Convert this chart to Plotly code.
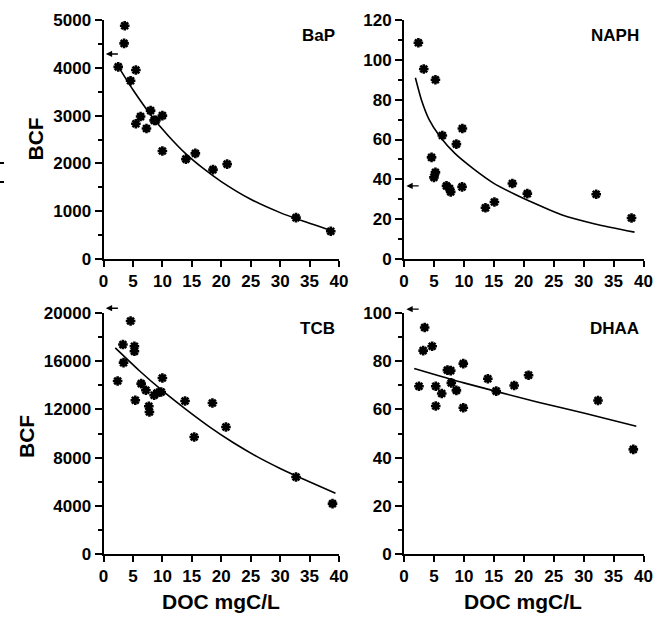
import plotly.graph_objects as go

W, H = 660, 617

# ---------------- data ----------------
BAP_DOC = [3.6, 3.5, 2.5, 5.5, 4.6, 8.0, 6.3, 5.5, 8.6, 10.0, 7.3, 8.9, 10.0, 14.0, 15.6, 18.6, 21.0, 32.7, 38.6]
BAP_BCF = [4880, 4510, 4020, 3955, 3730, 3105, 2980, 2830, 2900, 3000, 2730, 2900, 2260, 2090, 2210, 1870, 1985, 865, 580]
BAP_FIT_DOC = [2.5, 5, 8, 11, 14, 17, 20, 25, 30, 34, 38.8]
BAP_FIT_BCF = [4030, 3540, 3020, 2580, 2200, 1890, 1620, 1250, 970, 790, 590]

NAPH_DOC = [2.4, 3.3, 5.25, 6.4, 9.75, 8.75, 4.6, 5.25, 5.0, 7.1, 7.6, 7.8, 9.7, 15.1, 13.6, 18.1, 20.6, 32.1, 38.0]
NAPH_BCF = [108.6, 95.4, 90, 62, 65.5, 57.7, 51, 43.5, 41, 36.7, 35.4, 33.7, 36.2, 28.6, 25.7, 37.9, 32.8, 32.5, 20.6]
NAPH_FIT_DOC = [1.9, 2.9, 4.2, 6.0, 8.5, 11.5, 15, 18.5, 21, 26.3, 31.9, 38.5]
NAPH_FIT_BCF = [91, 80, 70, 61.5, 53, 45.5, 38.0, 32.5, 29.0, 22.2, 17.6, 13.5]

TCB_DOC = [4.6, 3.3, 5.25, 5.25, 3.4, 2.4, 6.4, 10.0, 7.2, 8.6, 9.8, 9.1, 5.4, 7.7, 7.8, 13.85, 18.5, 15.4, 20.8, 32.7, 38.9]
TCB_BCF = [19340, 17380, 17240, 16820, 15880, 14360, 14140, 14610, 13590, 13170, 13440, 13360, 12760, 12260, 11780, 12700, 12530, 9710, 10540, 6390, 4180]
TCB_FIT_DOC = [2, 6, 10, 14, 18, 22, 26, 30, 34, 39.4]
TCB_FIT_BCF = [17100, 15250, 13550, 12000, 10550, 9250, 8100, 7100, 6200, 5050]

DHAA_DOC = [3.45, 3.2, 4.7, 2.5, 5.3, 7.25, 7.8, 9.9, 7.9, 6.3, 8.75, 5.3, 9.9, 14.0, 15.4, 18.4, 20.8, 32.4, 38.3]
DHAA_BCF = [94.0, 84.4, 86.2, 69.6, 69.6, 76.3, 76.1, 79.0, 71.0, 66.6, 67.9, 61.4, 60.7, 72.7, 67.6, 69.9, 74.2, 63.7, 43.4]
DHAA_FIT_DOC = [1.7, 10, 22.4, 30, 38.8]
DHAA_FIT_BCF = [77, 71, 63, 58.5, 53]

# arrows at the BCF axis (value with no DOC)
ARROW_BCF = {"BaP": 4290, "NAPH": 36.7, "TCB": 20400, "DHAA": 101.6}
ARROW_DOC = [0.4, 2.7]  # head, tail

PANEL_NAMES = ["BaP", "NAPH", "TCB", "DHAA"]
Y_MAX = [5000, 120, 20000, 100]
Y_DTICK = [1000, 20, 4000, 20]
Y_MINOR = [500, 10, 2000, 10]
X_TICKS = [0, 5, 10, 15, 20, 25, 30, 35, 40]
X_TITLE = "DOC mgC/L"
Y_TITLE = "BCF"

DATA = [
    (BAP_DOC, BAP_BCF, BAP_FIT_DOC, BAP_FIT_BCF),
    (NAPH_DOC, NAPH_BCF, NAPH_FIT_DOC, NAPH_FIT_BCF),
    (TCB_DOC, TCB_BCF, TCB_FIT_DOC, TCB_FIT_BCF),
    (DHAA_DOC, DHAA_BCF, DHAA_FIT_DOC, DHAA_FIT_BCF),
]

# ---------------- layout geometry (pixels) ----------------
COL_X = [(103.5, 339.0), (404.0, 643.5)]
ROW_Y = [(20.0, 259.0), (313.0, 554.0)]


def px_x(p):
    return p / W


def px_y(p):
    return 1 - p / H


FONT = "Liberation Sans, Arial, sans-serif"
tickfont = dict(family=FONT, size=17, color="black", weight="bold")

fig = go.Figure()
layout = dict(
    template="none",
    width=W, height=H,
    margin=dict(l=0, r=0, t=0, b=0, pad=0, autoexpand=False),
    paper_bgcolor="white", plot_bgcolor="white",
    showlegend=False,
    annotations=[], shapes=[],
)

for i, name in enumerate(PANEL_NAMES):
    r, c = divmod(i, 2)
    sfx = "" if i == 0 else str(i + 1)
    xa, ya = "x" + sfx, "y" + sfx
    doc, bcf, fdoc, fbcf = DATA[i]

    fig.add_trace(go.Scatter(
        x=fdoc, y=fbcf, mode="lines", xaxis=xa, yaxis=ya,
        line=dict(color="black", width=1.6, shape="spline", smoothing=0.6),
        hoverinfo="skip"))
    fig.add_trace(go.Scatter(
        x=doc, y=bcf, mode="markers", xaxis=xa, yaxis=ya, cliponaxis=False,
        marker=dict(symbol="asterisk-open", size=8, color="black",
                    line=dict(color="black", width=2.6))))

    x0, x1 = COL_X[c]
    y0, y1 = ROW_Y[r]
    layout["xaxis" + sfx] = dict(
        domain=[px_x(x0), px_x(x1)], range=[0, 40], anchor=ya, automargin=False,
        tickmode="array", tickvals=X_TICKS, ticktext=[str(t) for t in X_TICKS],
        ticks="outside", ticklen=6, tickwidth=2, tickcolor="black",
        showline=True, linewidth=2, linecolor="black",
        showgrid=False, zeroline=False, tickfont=tickfont,
    )
    layout["yaxis" + sfx] = dict(
        domain=[px_y(y1), px_y(y0)], range=[0, Y_MAX[i]], anchor=xa, automargin=False,
        tick0=0, dtick=Y_DTICK[i], tickformat="d",
        ticks="outside", ticklen=7, tickwidth=2, tickcolor="black",
        minor=dict(dtick=Y_MINOR[i], ticks="outside", ticklen=4, tickwidth=1.5,
                   tickcolor="black", showgrid=False),
        showline=True, linewidth=2, linecolor="black",
        showgrid=False, zeroline=False, tickfont=tickfont,
    )

    # panel label
    layout["annotations"].append(dict(
        text=name, xref=xa + " domain", yref=ya + " domain",
        x=0.99, y=0.935, xanchor="right", yanchor="middle", showarrow=False,
        font=dict(family=FONT, size=17, color="black", weight="bold")))

    # arrow pointing at BCF axis
    yv = ARROW_BCF[name] / Y_MAX[i]
    layout["annotations"].append(dict(
        text="", xref=xa + " domain", yref=ya + " domain",
        x=ARROW_DOC[0] / 40, y=yv, axref=xa + " domain", ayref=ya + " domain",
        ax=ARROW_DOC[1] / 40, ay=yv, showarrow=True,
        arrowhead=2, arrowsize=0.9, arrowwidth=1.4, arrowcolor="black"))

# axis titles
title_font = dict(family=FONT, size=21, color="black", weight="bold")
for (cx, cy) in [(35, 139.5), (26, 436)]:
    layout["annotations"].append(dict(
        text=Y_TITLE, xref="paper", yref="paper", x=px_x(cx), y=px_y(cy),
        textangle=-90, showarrow=False, xanchor="center", yanchor="middle",
        font=title_font))
for cx in [221, 523]:
    layout["annotations"].append(dict(
        text=X_TITLE, xref="paper", yref="paper", x=px_x(cx), y=px_y(601),
        showarrow=False, xanchor="center", yanchor="middle", font=title_font))

# small scan marks at the left edge
for py in [163, 182]:
    layout["shapes"].append(dict(
        type="line", xref="paper", yref="paper",
        x0=0, x1=px_x(4), y0=px_y(py), y1=px_y(py),
        line=dict(color="black", width=2)))

fig.update_layout(**layout)
fig.write_html(
    "out.html",
    config={"displayModeBar": False},
    post_script="document.body.style.margin='0';document.body.style.overflow='hidden';",
)
